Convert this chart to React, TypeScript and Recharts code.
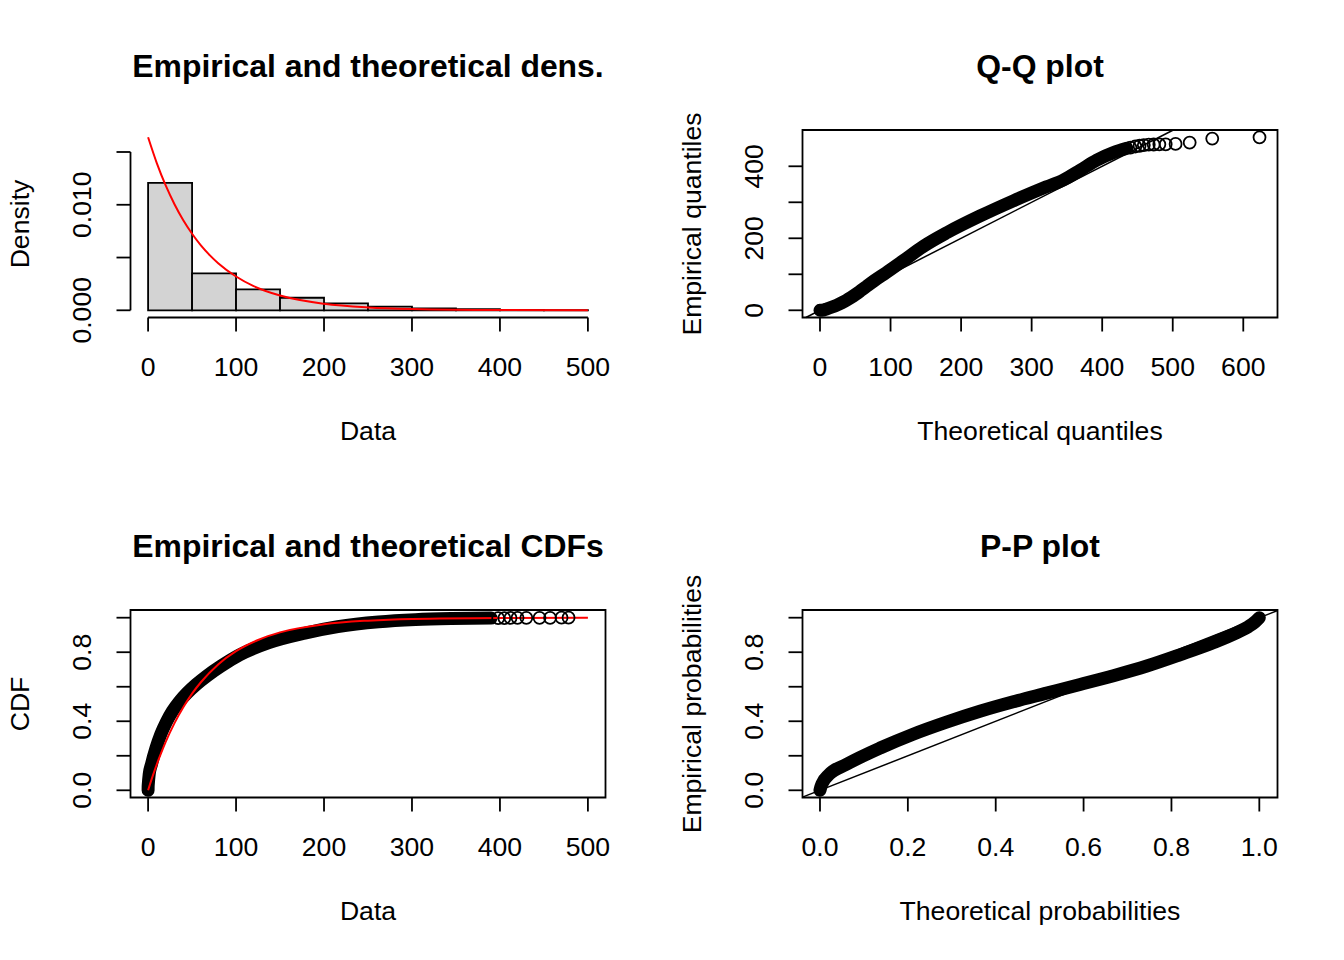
import React from "react";
import {
  ComposedChart,
  XAxis,
  YAxis,
  Line,
  Scatter,
  ReferenceArea,
  ReferenceLine,
} from "recharts";

const FONT = '"Liberation Sans", Arial, Helvetica, sans-serif';
const LW = 1.8;
const BAND = 13;

// --- histogram + fitted density (top left)
const histBreaks = [0, 50, 100, 150, 200, 250, 300, 350, 400, 450, 500];
const histDensity = [0.01208, 0.0035, 0.00199, 0.00119, 0.00066, 0.00034, 0.00019, 0.0001, 0.00004, 0.00002];
const densFitX = [0, 10, 20, 30, 40, 50, 60, 70, 80, 100, 120, 150, 200, 250, 300, 400, 500];
const densFitY = [0.0164, 0.01393, 0.01183, 0.01005, 0.00853, 0.00725, 0.00615, 0.00523, 0.00444, 0.0032, 0.00229, 0.0014, 0.00062, 0.00027, 0.00012, 0.00002, 0.000005];

// --- Q-Q plot (top right)
const qqTheoretical = [0, 2.5, 5.8, 9.9, 17.1, 24, 30.6, 37.3, 43.9, 50.5, 57.9, 66.5, 77.6, 93.7, 117.7, 146.8, 180, 227, 274, 321, 345, 368, 392, 416, 435];
const qqEmpirical = [0, 0.3, 1.2, 3.8, 9, 14.5, 20.7, 27.6, 35.4, 44.2, 54.7, 67.2, 83, 104.3, 137.3, 178, 215.7, 262, 304, 343, 362, 388, 417, 438, 450];
const qqTailTheoretical = [440, 447, 453, 459, 466, 473, 481, 490, 504, 524, 556, 623];
const qqTailEmpirical = [452, 455, 457, 459, 460, 460.5, 461, 461, 462, 466, 477, 480.5];

// --- empirical vs theoretical CDF (bottom left)
const cdfX = [0, 0.05, 0.3, 1.2, 3.8, 9, 14.5, 20.7, 27.6, 35.4, 44.2, 54.7, 67.2, 83, 104.3, 137.3, 178, 215.7, 262, 304, 345, 390];
const cdfY = [0, 0.02, 0.04, 0.09, 0.15, 0.245, 0.325, 0.395, 0.458, 0.513, 0.563, 0.613, 0.664, 0.72, 0.785, 0.855, 0.91, 0.948, 0.9757, 0.9888, 0.9948, 0.9976];
const cdfTailX = [398, 405, 412, 420, 430, 445, 457, 470, 478];
const cdfTailY = [0.998, 0.998, 0.9985, 0.999, 0.999, 0.9995, 0.9995, 1, 1];
const cdfFitX = [0, 5, 10, 15, 20, 30, 40, 50, 60, 80, 100, 125, 150, 200, 250, 300, 400, 500];
const cdfFitY = [0, 0.079, 0.152, 0.218, 0.28, 0.389, 0.481, 0.56, 0.626, 0.731, 0.806, 0.871, 0.915, 0.962, 0.983, 0.993, 0.9986, 0.9997];

// --- P-P plot (bottom right)
const ppTheoretical = [0, 0.002, 0.005, 0.02, 0.06, 0.137, 0.212, 0.288, 0.364, 0.44, 0.516, 0.592, 0.668, 0.744, 0.819, 0.895, 0.95, 0.975, 0.99, 1.0];
const ppEmpirical = [0, 0.02, 0.04, 0.09, 0.15, 0.245, 0.325, 0.395, 0.458, 0.513, 0.563, 0.613, 0.664, 0.72, 0.785, 0.855, 0.915, 0.948, 0.975, 1.0];

// ticks
const dataTicks = [0, 100, 200, 300, 400, 500];
const densTicks = [0, 0.005, 0.01, 0.015];
const densTickLabels = [0, 0.01];
const qqXTicks = [0, 100, 200, 300, 400, 500, 600];
const qqYTicks = [0, 100, 200, 300, 400];
const qqYTickLabels = [0, 200, 400];
const probTicks = [0, 0.2, 0.4, 0.6, 0.8, 1.0];
const probTickLabels = [0, 0.4, 0.8];

const pts = (xs: number[], ys: number[]) => xs.map((x, i) => ({ x, y: ys[i] }));

// plot region inside each 672x480 panel
const PL = 130.5, PR = 605.5, PT = 130, PB = 317.5;
const YW = 60, XH = 30;
const margin = { top: PT, right: 672 - PR, bottom: 480 - PB - XH, left: PL - YW };

const xTick = (fmt: (v: number) => string) => (props: any) => (
  <text x={props.x} y={375.5} textAnchor="middle" fontSize={26.6} fontFamily={FONT} fill="#000">
    {fmt(props.payload.value)}
  </text>
);

const yTick = (fmt: (v: number) => string, labels: number[]) => (props: any) => {
  const v = props.payload.value;
  if (!labels.some((l) => Math.abs(l - v) < 1e-9)) return <g />;
  return (
    <text transform={`translate(91,${props.y}) rotate(-90)`} textAnchor="middle" fontSize={26.6} fontFamily={FONT} fill="#000">
      {fmt(v)}
    </text>
  );
};

const circle = (props: any) => (
  <circle cx={props.cx} cy={props.cy} r={6} fill="none" stroke="#000" strokeWidth={LW} />
);

const Titles = ({ title, xTitle, yTitle }: { title: string; xTitle: string; yTitle: string }) => (
  <svg width={672} height={480} style={{ position: "absolute", left: 0, top: 0, pointerEvents: "none" }}>
    <text x={368} y={77} textAnchor="middle" fontSize={31.9} fontWeight="bold" fontFamily={FONT} fill="#000">
      {title}
    </text>
    <text x={368} y={439.5} textAnchor="middle" fontSize={26.6} fontFamily={FONT} fill="#000">
      {xTitle}
    </text>
    <text transform={`translate(29,224) rotate(-90)`} textAnchor="middle" fontSize={26.6} fontFamily={FONT} fill="#000">
      {yTitle}
    </text>
  </svg>
);

const axisProps = {
  type: "number" as const,
  allowDataOverflow: true,
  interval: 0 as const,
  axisLine: false,
  tickSize: 14,
  tickLine: { stroke: "#000", strokeWidth: LW },
};

const fmt0 = (v: number) => String(v);
const fmt1 = (v: number) => v.toFixed(1);
const fmt3 = (v: number) => v.toFixed(3);

export default function App() {
  const qqX: [number, number] = [-24.8, 648.5];
  const qqY: [number, number] = [-20, 500.8];
  const pX: [number, number] = [-0.0398, 1.0414];
  const pY: [number, number] = [-0.0417, 1.0446];
  const dX: [number, number] = [-20, 520];
  const densY: [number, number] = [-0.000682, 0.017084];

  return (
    <div style={{ position: "absolute", left: 0, top: 0, width: 1344, height: 960, background: "#fff" }}>
      {/* density */}
      <div style={{ position: "absolute", left: 0, top: 0, width: 672, height: 480 }}>
        <ComposedChart width={672} height={480} margin={margin}>
          <XAxis {...axisProps} dataKey="x" domain={dX} ticks={dataTicks} height={XH} tick={xTick(fmt0)} />
          <YAxis {...axisProps} dataKey="y" domain={densY} ticks={densTicks} width={YW} tick={yTick(fmt3, densTickLabels)} />
          {histDensity.map((d, i) => (
            <ReferenceArea
              key={i}
              x1={histBreaks[i]}
              x2={histBreaks[i + 1]}
              y1={0}
              y2={d}
              fill="#d3d3d3"
              fillOpacity={1}
              stroke="#000"
              strokeWidth={LW}
              ifOverflow="visible"
            />
          ))}
          <ReferenceLine segment={[{ x: dataTicks[0], y: densY[0] }, { x: dataTicks[dataTicks.length - 1], y: densY[0] }]} stroke="#000" strokeWidth={LW} ifOverflow="visible" />
          <ReferenceLine segment={[{ x: dX[0], y: densTicks[0] }, { x: dX[0], y: densTicks[densTicks.length - 1] }]} stroke="#000" strokeWidth={LW} ifOverflow="visible" />
          <Line data={pts(densFitX, densFitY)} dataKey="y" type="monotone" stroke="#ff0000" strokeWidth={2} dot={false} activeDot={false} isAnimationActive={false} />
        </ComposedChart>
        <Titles title="Empirical and theoretical dens." xTitle="Data" yTitle="Density" />
      </div>

      {/* Q-Q */}
      <div style={{ position: "absolute", left: 672, top: 0, width: 672, height: 480 }}>
        <ComposedChart width={672} height={480} margin={margin}>
          <XAxis {...axisProps} dataKey="x" domain={qqX} ticks={qqXTicks} height={XH} tick={xTick(fmt0)} />
          <YAxis {...axisProps} dataKey="y" domain={qqY} ticks={qqYTicks} width={YW} tick={yTick(fmt0, qqYTickLabels)} />
          <Line data={pts(qqTheoretical, qqEmpirical)} dataKey="y" type="monotone" stroke="#000" strokeWidth={BAND} strokeLinecap="round" strokeLinejoin="round" dot={false} activeDot={false} isAnimationActive={false} />
          <Scatter data={pts(qqTailTheoretical, qqTailEmpirical)} dataKey="y" shape={circle} isAnimationActive={false} />
          <ReferenceLine segment={[{ x: qqY[0], y: qqY[0] }, { x: qqY[1], y: qqY[1] }]} stroke="#000" strokeWidth={1.5} ifOverflow="visible" />
          <ReferenceArea x1={qqX[0]} x2={qqX[1]} y1={qqY[0]} y2={qqY[1]} fill="none" stroke="#000" strokeWidth={LW} ifOverflow="visible" />
        </ComposedChart>
        <Titles title="Q-Q plot" xTitle="Theoretical quantiles" yTitle="Empirical quantiles" />
      </div>

      {/* CDF */}
      <div style={{ position: "absolute", left: 0, top: 480, width: 672, height: 480 }}>
        <ComposedChart width={672} height={480} margin={margin}>
          <XAxis {...axisProps} dataKey="x" domain={dX} ticks={dataTicks} height={XH} tick={xTick(fmt0)} />
          <YAxis {...axisProps} dataKey="y" domain={pY} ticks={probTicks} width={YW} tick={yTick(fmt1, probTickLabels)} />
          <Line data={pts(cdfX, cdfY)} dataKey="y" type="monotone" stroke="#000" strokeWidth={BAND} strokeLinecap="round" strokeLinejoin="round" dot={false} activeDot={false} isAnimationActive={false} />
          <Scatter data={pts(cdfTailX, cdfTailY)} dataKey="y" shape={circle} isAnimationActive={false} />
          <Line data={pts(cdfFitX, cdfFitY)} dataKey="y" type="monotone" stroke="#ff0000" strokeWidth={2} dot={false} activeDot={false} isAnimationActive={false} />
          <ReferenceArea x1={dX[0]} x2={dX[1]} y1={pY[0]} y2={pY[1]} fill="none" stroke="#000" strokeWidth={LW} ifOverflow="visible" />
        </ComposedChart>
        <Titles title="Empirical and theoretical CDFs" xTitle="Data" yTitle="CDF" />
      </div>

      {/* P-P */}
      <div style={{ position: "absolute", left: 672, top: 480, width: 672, height: 480 }}>
        <ComposedChart width={672} height={480} margin={margin}>
          <XAxis {...axisProps} dataKey="x" domain={pX} ticks={probTicks} height={XH} tick={xTick(fmt1)} />
          <YAxis {...axisProps} dataKey="y" domain={pY} ticks={probTicks} width={YW} tick={yTick(fmt1, probTickLabels)} />
          <Line data={pts(ppTheoretical, ppEmpirical)} dataKey="y" type="monotone" stroke="#000" strokeWidth={BAND} strokeLinecap="round" strokeLinejoin="round" dot={false} activeDot={false} isAnimationActive={false} />
          <ReferenceLine segment={[{ x: pX[0], y: pX[0] }, { x: pY[1], y: pY[1] }]} stroke="#000" strokeWidth={1.5} ifOverflow="hidden" />
          <ReferenceArea x1={pX[0]} x2={pX[1]} y1={pY[0]} y2={pY[1]} fill="none" stroke="#000" strokeWidth={LW} ifOverflow="visible" />
        </ComposedChart>
        <Titles title="P-P plot" xTitle="Theoretical probabilities" yTitle="Empirical probabilities" />
      </div>
    </div>
  );
}
